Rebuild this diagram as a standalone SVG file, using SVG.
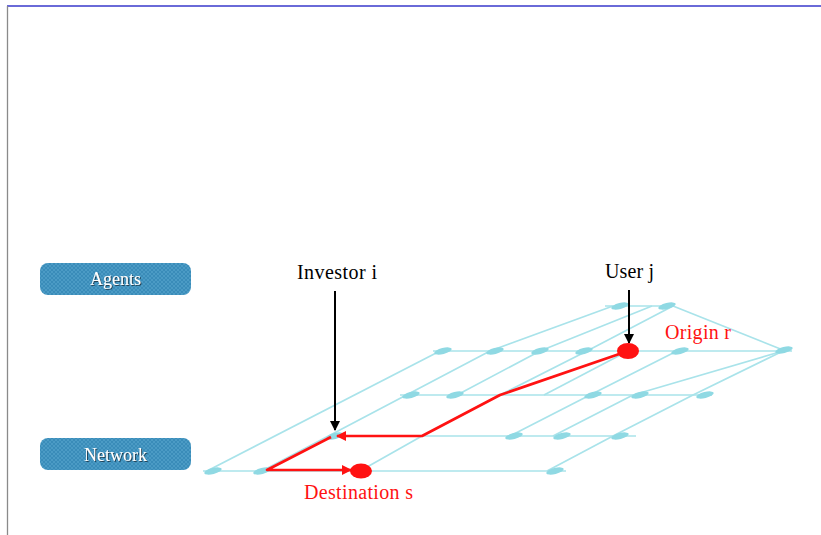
<svg xmlns="http://www.w3.org/2000/svg" width="821" height="535" viewBox="0 0 821 535">
  <defs>
    <style>
      .grid { fill: none; stroke: #a9e3ea; stroke-width: 1.7; stroke-linejoin: round; }
      .blob { fill: #8fd9e3; }
      .route { fill: none; stroke: #ff1212; stroke-width: 2.7; stroke-linejoin: round; }
      .pointer { fill: none; stroke: #000; stroke-width: 2; }
      .label { font-family: "Liberation Serif", "DejaVu Serif", serif; font-size: 20px; }
      .tag { font-family: "Liberation Serif", "DejaVu Serif", serif; font-size: 18px; fill: #ffffff; filter: url(#emboss); }
      .chip { fill: url(#weave); }
    </style>
    <pattern id="weave" width="4" height="4" patternUnits="userSpaceOnUse">
      <rect width="4" height="4" fill="#3a8cb9"/>
      <path d="M0,4 L4,0 M0,0 L4,4" stroke="#57a5cd" stroke-width="0.6"/>
    </pattern>
    <filter id="emboss" x="-10%" y="-30%" width="120%" height="160%">
      <feDropShadow dx="1" dy="1" stdDeviation="0.5" flood-color="#1a3b4d" flood-opacity="0.9"/>
    </filter>
    <ellipse id="node-blob" cx="0" cy="0" rx="9" ry="3" transform="rotate(-14)"/>
    <marker id="red-head" markerWidth="10" markerHeight="10" refX="9" refY="5" orient="auto" markerUnits="userSpaceOnUse">
      <path d="M0,0 L10,5 L0,10 Z" fill="#ff1212"/>
    </marker>
    <marker id="black-head" markerWidth="10" markerHeight="10" refX="9" refY="5" orient="auto" markerUnits="userSpaceOnUse">
      <path d="M0,0 L10,5 L0,10 Z" fill="#000"/>
    </marker>
  </defs>

  <rect width="821" height="535" fill="#ffffff"/>
  <!-- page frame -->
  <line x1="7" y1="6" x2="821" y2="6" stroke="#6a6ad8" stroke-width="1.8"/>
  <line x1="7.5" y1="6" x2="7.5" y2="535" stroke="#8a8a8a" stroke-width="1.3"/>

  <!-- layer labels -->
  <g id="agents">
    <rect class="chip" x="40" y="263" width="151" height="32" rx="8"/>
    <text class="tag" x="115.5" y="285" text-anchor="middle">Agents</text>
  </g>
  <g id="network">
    <rect class="chip" x="40" y="438" width="151" height="32" rx="8"/>
    <text class="tag" x="115.5" y="461" text-anchor="middle">Network</text>
  </g>

  <!-- transport network lattice -->
  <g id="lattice">
    <path class="grid" d="M605,306 H673 L783,350"/>
    <path class="grid" d="M433,351 H792"/>
    <path class="grid" d="M400,395 H712"/>
    <path class="grid" d="M328,436 H636"/>
    <path class="grid" d="M203,471 H566"/>
    <path class="grid" d="M205,472 L440,351"/>
    <path class="grid" d="M262,471 L490,351 L613,306"/>
    <path class="grid" d="M457,395 L540,351 L652,306"/>
    <path class="grid" d="M360,471 L422,436 L500,395 L587,351 L673,306"/>
    <path class="grid" d="M544,395 L628,351"/>
    <path class="grid" d="M510,436 L590,395 L677,351"/>
    <path class="grid" d="M547,471 L613,436 L693,395 L783,351"/>
    <path class="grid" d="M553,436 L633,395 L783,351"/>
    <g class="blob">
      <use href="#node-blob" x="620" y="306"/>
      <use href="#node-blob" x="667" y="306"/>
      <use href="#node-blob" x="443" y="351"/>
      <use href="#node-blob" x="495" y="351"/>
      <use href="#node-blob" x="540" y="351"/>
      <use href="#node-blob" x="584" y="351"/>
      <use href="#node-blob" x="680" y="351"/>
      <use href="#node-blob" x="784" y="350"/>
      <use href="#node-blob" x="411" y="395"/>
      <use href="#node-blob" x="455" y="395"/>
      <use href="#node-blob" x="593" y="395"/>
      <use href="#node-blob" x="640" y="395"/>
      <use href="#node-blob" x="705" y="395"/>
      <use href="#node-blob" x="335" y="436"/>
      <use href="#node-blob" x="514" y="436"/>
      <use href="#node-blob" x="562" y="436"/>
      <use href="#node-blob" x="620" y="436"/>
      <use href="#node-blob" x="213" y="471"/>
      <use href="#node-blob" x="262" y="471"/>
      <use href="#node-blob" x="555" y="471"/>
    </g>
  </g>

  <!-- route and pointers -->
  <g id="connectors">
    <path class="route" d="M628,351 L500,395 L422,436 L337,436" marker-end="url(#red-head)"/>
    <path class="route" d="M331,437 L267,470 L351,470" marker-end="url(#red-head)"/>
    <line class="pointer" x1="335" y1="291" x2="335" y2="430" marker-end="url(#black-head)"/>
    <line class="pointer" x1="629" y1="290" x2="629" y2="343" marker-end="url(#black-head)"/>
  </g>

  <g id="origin-r">
    <ellipse cx="628" cy="351" rx="11" ry="8" fill="#ff1212"/>
    <text class="label" x="665" y="339" fill="#ff1212" textLength="66">Origin r</text>
  </g>
  <g id="destination-s">
    <ellipse cx="361" cy="471" rx="11" ry="7.5" fill="#ff1212"/>
    <text class="label" x="304" y="499" fill="#ff1212" textLength="109">Destination s</text>
  </g>
  <g id="investor-i">
    <text class="label" x="297" y="279" fill="#000" textLength="80">Investor i</text>
  </g>
  <g id="user-j">
    <text class="label" x="605" y="278" fill="#000" textLength="49">User j</text>
  </g>
</svg>
